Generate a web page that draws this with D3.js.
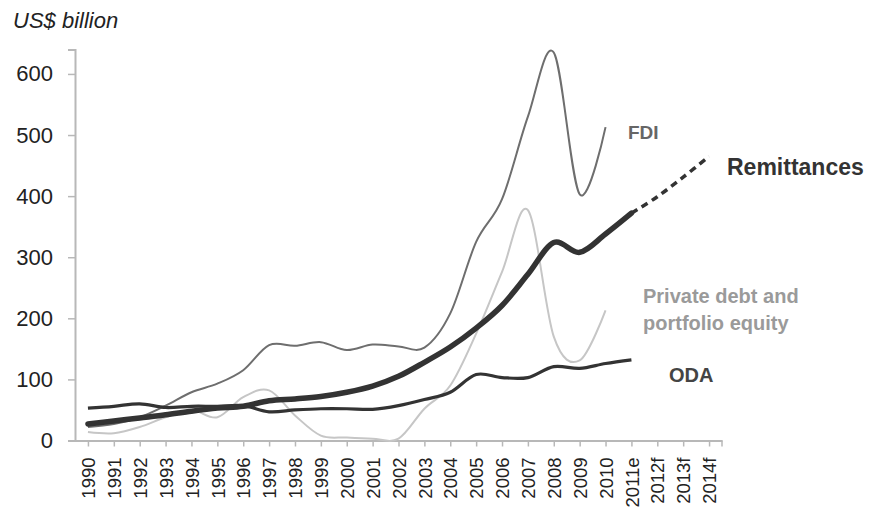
<!DOCTYPE html>
<html>
<head>
<meta charset="utf-8">
<script src="https://cdn.jsdelivr.net/npm/d3@7/dist/d3.min.js"></script>
<style>
  html, body { margin: 0; padding: 0; background: #fff; }
  svg { display: block; }
</style>
</head>
<body>
<svg id="chart" width="878" height="512"></svg>
<script>
// ---- data ----
const years = ["1990","1991","1992","1993","1994","1995","1996","1997","1998","1999","2000","2001","2002","2003","2004","2005","2006","2007","2008","2009","2010","2011e","2012f","2013f","2014f"];
const fdi = [22,27,38,57,79,93,115,156,155,161,148,157,154,152,208,325,395,530,635,403,513];
const privateDebt = [14,12,22,38,50,38,71,82,41,8,5,3,3,52,90,175,276,377,170,131,213];
const oda = [53,56,60,54,56,56,57,47,50,52,52,51,57,67,79,108,103,103,121,118,126,132];
const remittances = [27,32,37,42,48,53,56,65,68,72,79,89,105,128,153,184,221,272,324,308,338,372,399,431,465];
const remittancesActualCount = 22; // through 2011e, rest are forecasts
const yTicks = [0,100,200,300,400,500,600];

// ---- layout ----
const svg = d3.select("#chart");
const x = d3.scalePoint().domain(years).range([75, 722]).padding(0.5);
const y = d3.scaleLinear().domain([0, 640]).range([440.5, 49.5]);
const axisColor = "#b8b8b8";

// title
svg.append("text")
  .attr("x", 13).attr("y", 28)
  .attr("font-family", "Liberation Sans, Arial, sans-serif")
  .attr("font-style", "italic")
  .attr("font-size", 22)
  .attr("fill", "#222")
  .text("US$ billion");

// y axis
const yAxis = d3.axisLeft(y).tickValues(yTicks).tickSize(7).tickPadding(15).tickFormat(d3.format("d"));
const gy = svg.append("g").attr("transform", "translate(75,0)").call(yAxis);
gy.select(".domain").attr("stroke", axisColor).attr("stroke-width", 2);
gy.selectAll(".tick line").attr("stroke", axisColor).attr("stroke-width", 1.5);
gy.selectAll(".tick text")
  .attr("font-family", "Liberation Sans, Arial, sans-serif")
  .attr("font-size", 22)
  .attr("fill", "#222");

// x axis
const xAxis = d3.axisBottom(x).tickSize(6).tickSizeOuter(0).tickPadding(0);
const gx = svg.append("g").attr("transform", "translate(0,440.5)").call(xAxis);
gx.select(".domain").attr("stroke", axisColor).attr("stroke-width", 2);
gx.selectAll(".tick line").attr("stroke", axisColor).attr("stroke-width", 1.5);
gx.selectAll(".tick text")
  .attr("font-family", "Liberation Sans, Arial, sans-serif")
  .attr("font-size", 18.5)
  .attr("fill", "#222")
  .attr("text-anchor", "end")
  .attr("transform", "translate(0,17) rotate(-90)")
  .attr("x", 0).attr("y", 0).attr("dy", "0.36em");
// end tick at right edge of axis
gx.append("line").attr("x1", 722).attr("x2", 722).attr("y1", 0).attr("y2", 6)
  .attr("stroke", axisColor).attr("stroke-width", 1.5);

// lines
const curve = d3.curveCardinal.tension(0);
const line = d3.line().x(d => x(d[0])).y(d => y(d[1])).curve(curve);
const pairs = arr => arr.map((v, i) => [years[i], v]);

svg.append("path").datum(pairs(fdi))
  .attr("d", line).attr("fill", "none").attr("stroke", "#6e6e6e").attr("stroke-width", 2);
svg.append("path").datum(pairs(privateDebt))
  .attr("d", line).attr("fill", "none").attr("stroke", "#c6c6c6").attr("stroke-width", 2);
svg.append("path").datum(pairs(oda))
  .attr("d", line).attr("fill", "none").attr("stroke", "#333").attr("stroke-width", 3.2);

const remitPairs = pairs(remittances);
svg.append("path").datum(remitPairs.slice(0, remittancesActualCount))
  .attr("d", line).attr("fill", "none").attr("stroke", "#333").attr("stroke-width", 5.5)
  .attr("stroke-linecap", "round");
svg.append("path").datum(remitPairs.slice(remittancesActualCount - 1))
  .attr("d", line).attr("fill", "none").attr("stroke", "#333").attr("stroke-width", 3.5)
  .attr("stroke-dasharray", "7,5");

// series labels
const lab = (txt, lx, ly, size, color) => svg.append("text")
  .attr("x", lx).attr("y", ly)
  .attr("font-family", "Liberation Sans, Arial, sans-serif")
  .attr("font-weight", "bold").attr("font-size", size).attr("fill", color).text(txt);
lab("FDI", 628, 139, 19, "#666");
lab("Remittances", 727, 175, 23, "#333");
lab("Private debt and", 643, 303, 20, "#9a9a9a");
lab("portfolio equity", 643, 330, 20, "#9a9a9a");
lab("ODA", 669, 382, 20, "#444");
</script>
</body>
</html>
